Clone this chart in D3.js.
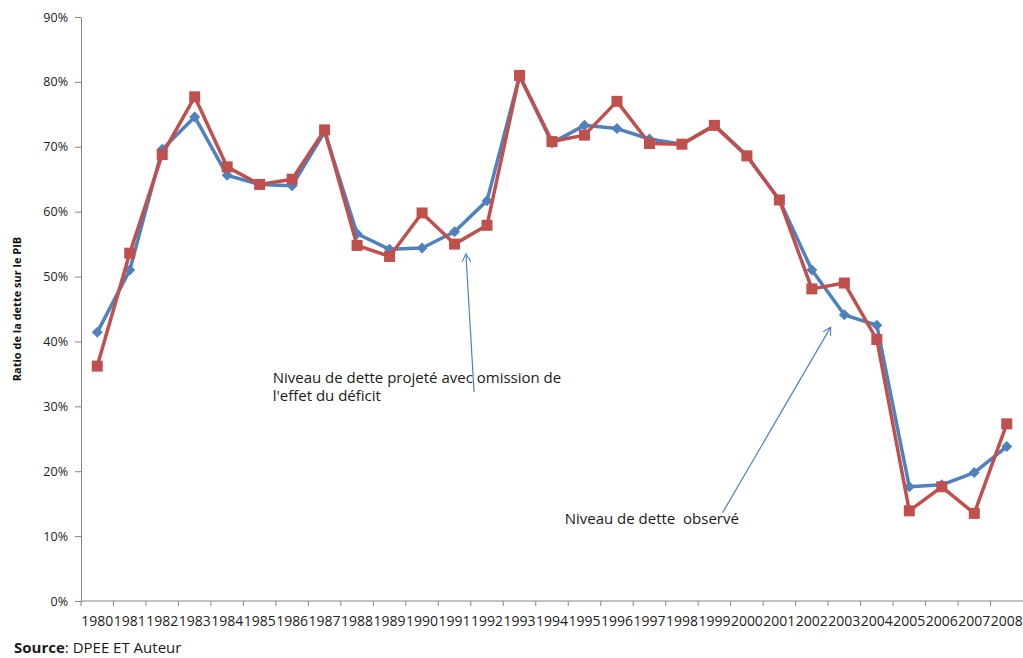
<!DOCTYPE html>
<html>
<head>
<meta charset="utf-8">
<script src="https://cdn.jsdelivr.net/npm/d3@7"></script>
<style>
  html, body { margin: 0; padding: 0; background: #fff; }
  svg { display: block; font-family: "Open Sans", Lato, sans-serif; }
</style>
</head>
<body>
<svg id="chart" width="1023" height="658"></svg>
<script>
// Years on the category axis
const years = d3.range(1980, 2009).map(String);

// Debt-to-GDP ratio (%) — observed level
const observed = [41.4, 51.0, 69.6, 74.6, 65.6, 64.2, 64.0, 72.3, 56.6, 54.2, 54.4, 56.9, 61.7,
  80.9, 70.6, 73.3, 72.8, 71.2, 70.4, 73.3, 68.6, 61.8, 51.0, 44.1, 42.5, 17.6, 17.9, 19.8, 23.8];

// Debt-to-GDP ratio (%) — projected level ignoring the deficit effect
const projected = [36.2, 53.6, 68.8, 77.7, 66.9, 64.2, 65.0, 72.6, 54.8, 53.1, 59.8, 55.0, 57.9,
  81.0, 70.8, 71.8, 77.0, 70.5, 70.4, 73.3, 68.6, 61.8, 48.1, 49.0, 40.3, 13.9, 17.6, 13.5, 27.3];

const yTicks = [0, 10, 20, 30, 40, 50, 60, 70, 80, 90];

const svg = d3.select("#chart");
const margin = { left: 81, top: 17, right: 0, bottom: 57 };
const W = 1023, H = 658;
const plotW = W - margin.left - margin.right;
const plotH = H - margin.top - margin.bottom;

const x = d3.scaleBand().domain(years).range([0, plotW]).paddingInner(0).paddingOuter(0);
const y = d3.scaleLinear().domain([0, 90]).range([plotH, 0]);
const cx = d => x(d) + x.bandwidth() / 2;
// fractional category index -> pixel, for annotation placement
const xi = d3.scaleLinear().domain([0, years.length - 1]).range([cx(years[0]), cx(years[years.length - 1])]);

const g = svg.append("g").attr("transform", `translate(${margin.left},${margin.top})`);

const axisColor = "#868686";

// Y axis
const yAxis = g.append("g")
  .call(d3.axisLeft(y).tickValues(yTicks).tickFormat(d => d + "%").tickSize(6).tickSizeOuter(0));
yAxis.select(".domain").attr("stroke", axisColor);
yAxis.selectAll(".tick line").attr("stroke", axisColor);
yAxis.selectAll(".tick text").attr("font-size", 12.5).attr("fill", "#222").attr("x", -13)
  .attr("font-family", "'Open Sans', sans-serif");

// X axis (ticks on category boundaries)
const xAxisG = g.append("g").attr("transform", `translate(0,${plotH})`);
xAxisG.append("line").attr("x1", 0).attr("x2", plotW).attr("stroke", axisColor);
xAxisG.selectAll("line.tk").data(years)
  .join("line").attr("class", "tk")
  .attr("x1", d => x(d)).attr("x2", d => x(d))
  .attr("y1", 0).attr("y2", 5).attr("stroke", axisColor);
xAxisG.selectAll("text").data(years).join("text")
  .attr("x", d => cx(d)).attr("y", 25)
  .attr("text-anchor", "middle").attr("font-size", 13.6).attr("fill", "#222")
  .attr("textLength", x.step() - 0.5).attr("lengthAdjust", "spacingAndGlyphs")
  .text(d => d);

// Y axis title
svg.append("text")
  .attr("transform", `translate(21,${margin.top + y(45)}) rotate(-90)`)
  .attr("text-anchor", "middle").attr("font-size", 11).attr("font-weight", "bold").attr("fill", "#111")
  .text("Ratio de la dette sur le PIB");

// Series
const series = [
  { name: "observé", values: observed, color: "#4F81BD", marker: "diamond" },
  { name: "projeté", values: projected, color: "#C0504D", marker: "square" }
];

const line = d3.line().x((d, i) => cx(years[i])).y(d => y(d));

series.forEach(s => {
  g.append("path").datum(s.values)
    .attr("fill", "none").attr("stroke", s.color).attr("stroke-width", 3.5)
    .attr("stroke-linejoin", "round").attr("d", line);
  if (s.marker === "diamond") {
    g.selectAll(null).data(s.values).join("path")
      .attr("transform", (d, i) => `translate(${cx(years[i])},${y(d)})`)
      .attr("d", "M0,-5.5L5.5,0L0,5.5L-5.5,0Z")
      .attr("fill", s.color);
  } else {
    const sz = 11;
    g.selectAll(null).data(s.values).join("rect")
      .attr("x", (d, i) => cx(years[i]) - sz / 2).attr("y", d => y(d) - sz / 2)
      .attr("width", sz).attr("height", sz)
      .attr("fill", s.color);
  }
});

// Annotations with arrows
const defs = svg.append("defs");
defs.append("marker").attr("id", "arrowOpen")
  .attr("viewBox", "0 0 10 10").attr("refX", 9).attr("refY", 5)
  .attr("markerWidth", 9).attr("markerHeight", 9).attr("markerUnits", "userSpaceOnUse")
  .attr("orient", "auto")
  .append("path").attr("d", "M0,0L9,5L0,10").attr("fill", "none").attr("stroke", "#4F81BD").attr("stroke-width", 1.2);

const arrows = [
  { from: [11.6, 32.2], to: [11.35, 53.5] },
  { from: [19.25, 13.6], to: [22.58, 42.2] }
];
arrows.forEach(a => {
  g.append("line")
    .attr("x1", xi(a.from[0])).attr("y1", y(a.from[1]))
    .attr("x2", xi(a.to[0])).attr("y2", y(a.to[1]))
    .attr("stroke", "#4F81BD").attr("stroke-width", 1.2)
    .attr("marker-end", "url(#arrowOpen)");
});

const note1 = g.append("text").attr("font-size", 15).attr("fill", "#1a1a1a")
  .attr("x", xi(5.4)).attr("y", y(33.6));
note1.append("tspan").attr("x", xi(5.4)).text("Niveau de dette projeté avec omission de");
note1.append("tspan").attr("x", xi(5.4)).attr("dy", 18).text("l'effet du déficit");

g.append("text").attr("font-size", 15).attr("fill", "#1a1a1a")
  .attr("x", xi(14.39)).attr("y", y(11.9))
  .attr("xml:space", "preserve").style("white-space", "pre")
  .text("Niveau de dette  observé");

// Source line
const src = svg.append("text").attr("x", 14).attr("y", 653).attr("font-size", 15).attr("fill", "#1a1a1a");
src.append("tspan").attr("font-weight", "bold").text("Source");
src.append("tspan").text(": DPEE ET Auteur");
</script>
</body>
</html>
